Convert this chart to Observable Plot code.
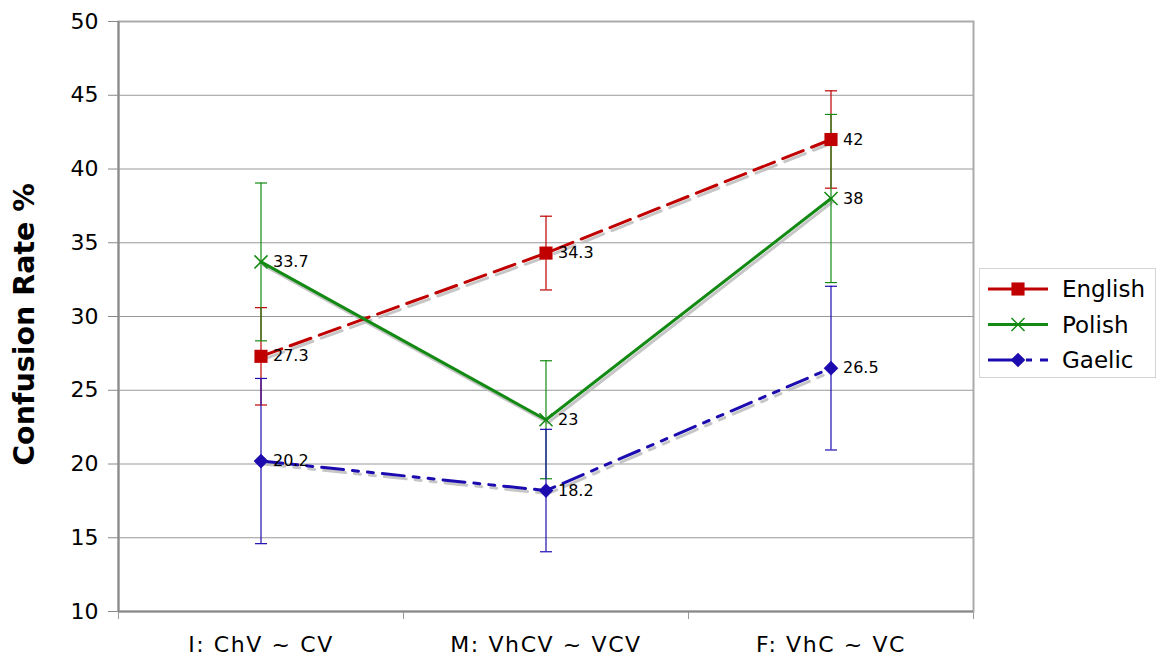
<!DOCTYPE html>
<html>
<head>
<meta charset="utf-8">
<script src="https://cdn.jsdelivr.net/npm/d3@7"></script>
<script src="https://cdn.jsdelivr.net/npm/@observablehq/plot@0.6"></script>
<style>
  body { margin: 0; background: #fff; }
  #wrap { position: relative; width: 1157px; height: 662px; }
  #legend { position: absolute; left: 979px; top: 268px; }
  svg { font-family: "DejaVu Sans", Verdana, sans-serif; }
  g[aria-label="x-axis tick label"] text { letter-spacing: 1.6px; }
</style>
</head>
<body>
<div id="wrap"></div>
<script>
const categories = ["I: ChV ~ CV", "M: VhCV ~ VCV", "F: VhC ~ VC"];
const seriesNames = ["English", "Polish", "Gaelic"];
const englishValues = [27.3, 34.3, 42];
const englishErrors = [3.3, 2.5, 3.3];
const polishValues = [33.7, 23, 38];
const polishErrors = [5.35, 4.0, 5.7];
const gaelicValues = [20.2, 18.2, 26.5];
const gaelicErrors = [5.6, 4.15, 5.55];
const yTicks = [10, 15, 20, 25, 30, 35, 40, 45, 50];

const seriesStyle = {
  English: {color: "#c00000", dash: "22,9", symbol: "square", r: 7.4, fill: true},
  Polish: {color: "#138a13", dash: null, symbol: "times", r: 6, fill: false},
  Gaelic: {color: "#1c0cb0", dash: "22,9,6,9,6,9", symbol: "diamond2", r: 6.6, fill: true}
};

const valuesBySeries = {English: englishValues, Polish: polishValues, Gaelic: gaelicValues};
const errorsBySeries = {English: englishErrors, Polish: polishErrors, Gaelic: gaelicErrors};

const rows = seriesNames.flatMap(s => categories.map((c, i) => ({
  series: s,
  category: c,
  pos: i + 0.5,
  value: valuesBySeries[s][i],
  lo: valuesBySeries[s][i] - errorsBySeries[s][i],
  hi: valuesBySeries[s][i] + errorsBySeries[s][i]
})));

const capSymbol = {
  draw(context, size) {
    const w = Math.sqrt(size / Math.PI);
    context.moveTo(-w, 0);
    context.lineTo(w, 0);
  }
};

const marks = [
  Plot.gridY(yTicks, {stroke: "#999", strokeOpacity: 1, strokeWidth: 1}),
  Plot.axisY(yTicks, {tickSize: 10, tickPadding: 10, fontSize: 22, stroke: "#888", label: null, tickFormat: d => String(d)}),
  Plot.axisX([0, 1, 2, 3], {tickSize: 8, stroke: "#999", tickFormat: () => "", label: null}),
  Plot.axisX([0.5, 1.5, 2.5], {tickSize: 0, tickPadding: 25, fontSize: 22, label: null, tickFormat: (d, i) => categories[i]}),
  Plot.frame({stroke: "#aaa", strokeWidth: 2}),
  Plot.ruleX([0], {stroke: "#8a8a8a", strokeWidth: 2}),
  Plot.ruleY([10], {stroke: "#8a8a8a", strokeWidth: 2}),
  Plot.text(["Confusion Rate %"], {frameAnchor: "left", textAnchor: "middle", rotate: -90, dx: -94, dy: 8, fontSize: 28.5, fontWeight: "bold", fill: "#000"})
];

for (const s of seriesNames) {
  const st = seriesStyle[s];
  const data = rows.filter(d => d.series === s);
  marks.push(Plot.line(data, {x: "pos", y: "value", stroke: "#b8b8b8", strokeOpacity: 0.8, strokeWidth: 3, strokeDasharray: st.dash, dx: 2, dy: 3}));
}
for (const s of seriesNames) {
  const st = seriesStyle[s];
  const data = rows.filter(d => d.series === s);
  marks.push(Plot.line(data, {x: "pos", y: "value", stroke: st.color, strokeWidth: 3, strokeDasharray: st.dash}));
}
for (const s of seriesNames) {
  const st = seriesStyle[s];
  const data = rows.filter(d => d.series === s);
  marks.push(
    Plot.ruleX(data, {x: "pos", y1: "lo", y2: "hi", stroke: st.color, strokeWidth: 1.2}),
    Plot.dot(data, {x: "pos", y: "lo", symbol: capSymbol, r: 6, stroke: st.color, strokeWidth: 1.2}),
    Plot.dot(data, {x: "pos", y: "hi", symbol: capSymbol, r: 6, stroke: st.color, strokeWidth: 1.2})
  );
}
for (const s of seriesNames) {
  const st = seriesStyle[s];
  const data = rows.filter(d => d.series === s);
  marks.push(
    st.fill
      ? Plot.dot(data, {x: "pos", y: "value", symbol: st.symbol, r: st.r, fill: st.color, stroke: "none"})
      : Plot.dot(data, {x: "pos", y: "value", symbol: st.symbol, r: st.r, stroke: st.color, strokeWidth: 1.5}),
    Plot.text(data, {x: "pos", y: "value", text: d => String(d.value), dx: 12, textAnchor: "start", fontSize: 16, fill: "#000"})
  );
}

const chart = Plot.plot({
  width: 1157,
  height: 662,
  marginLeft: 118,
  marginRight: 184,
  marginTop: 21,
  marginBottom: 51,
  style: {fontFamily: "'DejaVu Sans', Verdana, sans-serif", background: "#fff", color: "#000"},
  x: {type: "linear", domain: [0, 3], axis: null},
  y: {domain: [10, 50], axis: null},
  marks
});
document.getElementById("wrap").appendChild(chart);

// Legend
const legend = d3.select("#wrap").append("svg")
  .attr("id", "legend")
  .attr("width", 178).attr("height", 111)
  .style("font-family", "'DejaVu Sans', Verdana, sans-serif");
legend.append("rect").attr("x", 0.5).attr("y", 0.5).attr("width", 176).attr("height", 109)
  .attr("fill", "#fff").attr("stroke", "#d4d4d4");
const d3Symbols = {square: d3.symbolSquare, times: d3.symbolTimes, diamond2: d3.symbolDiamond2};
seriesNames.forEach((s, i) => {
  const st = seriesStyle[s];
  const g = legend.append("g").attr("transform", `translate(0,${21 + i * 35.5})`);
  g.append("line").attr("x1", 9).attr("x2", 69).attr("y1", 0).attr("y2", 0)
    .attr("stroke", st.color).attr("stroke-width", 3)
    .attr("stroke-dasharray", s === "Gaelic" ? "30,8,6,8" : null);
  const path = d3.symbol(d3Symbols[st.symbol], Math.PI * st.r * st.r)();
  const p = g.append("path").attr("d", path).attr("transform", "translate(39,0)");
  if (st.fill) p.attr("fill", st.color); else p.attr("fill", "none").attr("stroke", st.color).attr("stroke-width", 1.5);
  g.append("text").attr("x", 83).attr("y", 0).attr("dy", "0.35em")
    .attr("font-size", 23).attr("fill", "#000").text(s);
});
</script>
</body>
</html>
